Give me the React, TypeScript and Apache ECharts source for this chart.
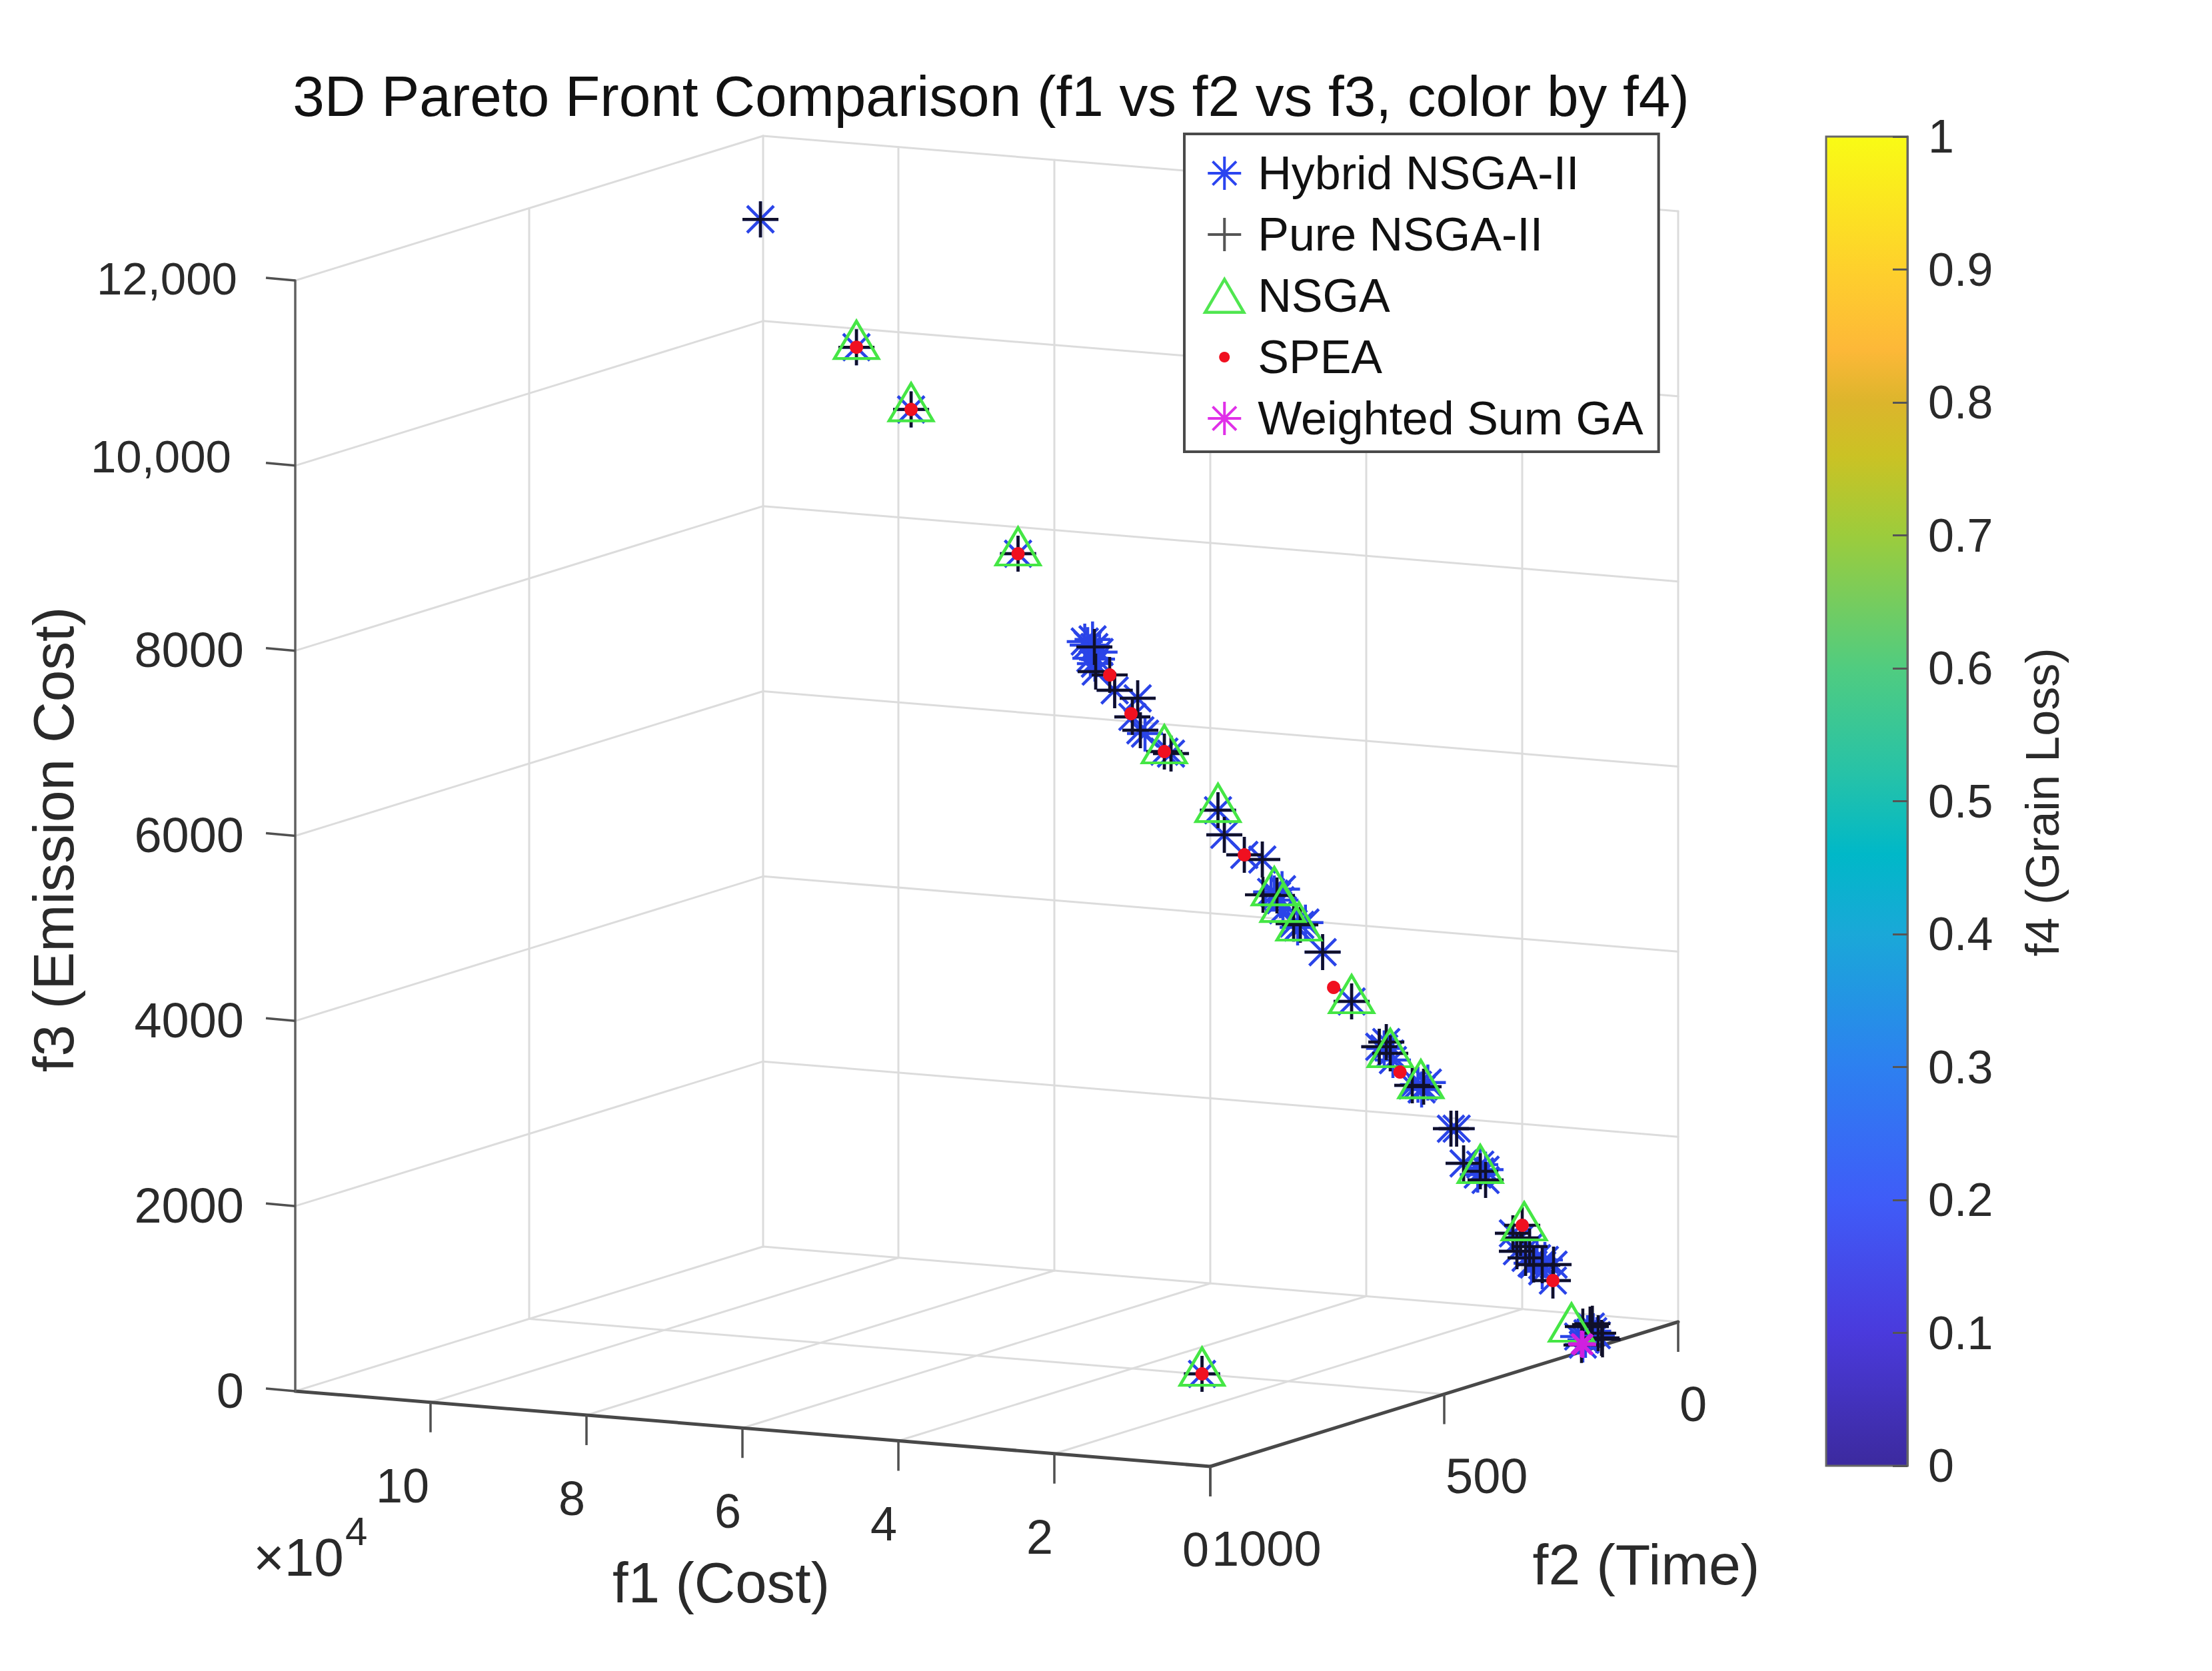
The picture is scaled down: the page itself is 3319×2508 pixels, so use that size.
import React, { useEffect, useRef } from "react";
import * as echarts from "echarts";

const W = 3319;
const H = 2508;
const FONT = "'Liberation Sans', Arial, sans-serif";

const chartTitle = "3D Pareto Front Comparison (f1 vs f2 vs f3, color by f4)";
const seriesNames = ["Hybrid NSGA-II", "Pure NSGA-II", "NSGA", "SPEA", "Weighted Sum GA"];

const f1Ticks = [0, 20000, 40000, 60000, 80000, 100000];
const f1TickLabels = ["0", "2", "4", "6", "8", "10"];
const f2Ticks = [0, 500, 1000];
const f2TickLabels = ["0", "500", "1000"];
const f3Ticks = [0, 2000, 4000, 6000, 8000, 10000, 12000];
const f3TickLabels = ["0", "2000", "4000", "6000", "8000", "10,000", "12,000"];
const F1_MAX = 117350;
const F2_MAX = 1000;
const F3_MAX = 12000;

// [f1, f2, f3]
const hybrid = [
  [109890,130,11354],[97580,130,10057],[90570,130,9433],[76855,130,7970],
  [68300,130,7080],[67300,130,7110],[66400,130,6980],[67000,130,6850],
  [67923,130,7045],[67068,130,7030],[67581,130,6904],[66726,130,6902],[66897,130,6765],[64462,130,6580],
  [61513,130,6514],[62197,130,6308],[61171,130,6171],[60573,130,6139],[58094,130,5962],[57239,130,5946],
  [51214,130,5376],[50402,130,5116],[47838,130,4917],[45530,130,4883],
  [44400,130,4540],[43200,130,4460],[43000,130,4580],[40000,130,4240],[41000,130,4180],
  [43649,130,4507],[43991,130,4526],[41513,130,4219],[40658,130,4211],[42880,130,4354],[37795,130,3936],
  [34077,130,3429],[30530,130,2964],[29632,130,3021],[29120,130,2902],[28778,130,2832],[29900,130,2950],
  [26299,130,2576],[25573,130,2588],[24846,130,2572],[25100,130,2540],[24300,130,2620],
  [21342,130,2142],[20607,130,2148],[19718,130,1779],[17581,130,1708],[16897,130,1619],[17581,130,1780],[16900,130,1730],[17900,130,1670],
  [13393,130,1067],[12410,130,1024],[11256,130,939],[12880,130,877],[11769,130,813],[10744,130,748],[9632,130,748],[9291,130,808],[8179,130,765],[9632,130,683],[8265,130,592],[10300,130,820],[11000,130,760],
  [692,170,160],[1684,170,60],[1000,170,208],[231,170,120],[2026,170,6],[2624,170,89],[1427,170,133],
  [7060,900,795],
];
const pure = [
  [109890,130,11354],[97580,130,10057],[90570,130,9433],[76855,130,7970],
  [67068,130,7030],[66897,130,6765],[65102,130,6741],[64462,130,6580],[61513,130,6514],[62197,130,6308],[61171,130,6171],[58094,130,5962],[57239,130,5946],
  [51214,130,5376],[50402,130,5116],[47838,130,4917],[45530,130,4883],[45444,130,4502],[43649,130,4507],[41513,130,4219],[40658,130,4211],[37795,130,3936],
  [34077,130,3429],[30530,130,2964],[29632,130,3021],[29120,130,2902],[26299,130,2576],[24846,130,2572],
  [21342,130,2142],[20607,130,2148],[19718,130,1779],[17581,130,1708],[16897,130,1619],
  [13393,130,1067],[12197,130,1162],[12410,130,1024],[11256,130,939],[12880,130,877],[11769,130,813],[10744,130,748],[9632,130,748],[8179,130,765],[8265,130,592],
  [2026,170,201],[60,170,143],[2197,170,0],[1000,170,208],[1100,170,230],[800,170,240],[230,160,76],[100,160,60],
  [7060,900,795],
];
const nsga = [
  [97580,130,10057],[90570,130,9433],[76855,130,7970],[58094,130,5962],[51214,130,5376],
  [43991,130,4526],[42880,130,4354],[40829,130,4167],[34077,130,3429],[29120,130,2881],[25200,130,2572],
  [17581,130,1708],[11940,130,1128],[3479,170,155],[7060,900,795],
];
const spea = [
  [97580,130,10057],[90570,130,9433],[76855,130,7970],[65102,130,6741],[62367,130,6342],[58094,130,5962],
  [47838,130,4917],[36385,130,3564],[27872,130,2709],[12197,130,1162],[8265,130,592],[7060,900,795],
];
const weighted = [[2026,170,6],[2200,170,12]];

const colorbarTicks = [0, 1];
const colorbarStops = [
  [0, "#3c2a9e"], [0.1, "#4a3adc"], [0.2, "#3f5cf8"], [0.3, "#2d80f0"], [0.4, "#1aa8d8"], [0.46, "#00b8c8"],
  [0.52, "#26c2a8"], [0.6, "#50cc80"], [0.7, "#9ccc3c"], [0.76, "#cbc224"], [0.8, "#dcb52c"], [0.84, "#fdb838"], [0.9, "#fed02c"], [1, "#f9fb15"],
];

function project(p: number[]): number[] {
  const u = p[0];
  const t = 1 - p[1] / F2_MAX;
  return [
    1816 - (u / F1_MAX) * 1373 + 702 * t,
    2201 - (u / F1_MAX) * 113 - 217 * t - (p[2] / F3_MAX) * 1667,
  ];
}

const ASTERISK = "path://M0 27L54 27M27 0L27 54M7 7L47 47M7 47L47 7";
const PLUS = "path://M0 27L54 27M27 0L27 54";
const TRIANGLE = "path://M0 56L33 0L66 56Z";
const LEG_AST = "path://M2 25L50 25M26 1L26 49M9 8L43 42M9 42L43 8";
const LEG_PLUS = "path://M2 25L50 25M26 1L26 49";
const LEG_TRI = "path://M1 49L29 1L57 49Z";
const LEG_DOT = "path://M0 0M58 50M29 17A8 8 0 1 1 28.9 17Z";

function segment(a: number[], b: number[], color: string, width: number) {
  return {
    type: "line",
    xAxisIndex: 0,
    yAxisIndex: 0,
    data: [project(a), project(b)],
    symbol: "none",
    silent: true,
    lineStyle: { color, width, cap: "round" },
    z: 1,
  };
}

function buildFrame() {
  const out: any[] = [];
  const GRID = "#dcdcdc";
  const gw = 3;
  f3Ticks.forEach((z) => {
    out.push(segment([F1_MAX, F2_MAX, z], [F1_MAX, 0, z], GRID, gw));
    out.push(segment([F1_MAX, 0, z], [0, 0, z], GRID, gw));
  });
  f1Ticks.forEach((x) => {
    out.push(segment([x, F2_MAX, 0], [x, 0, 0], GRID, gw));
    out.push(segment([x, 0, 0], [x, 0, F3_MAX], GRID, gw));
  });
  out.push(segment([F1_MAX, 0, 0], [F1_MAX, 0, F3_MAX], GRID, gw));
  out.push(segment([F1_MAX, 500, 0], [0, 500, 0], GRID, gw));
  out.push(segment([F1_MAX, 500, 0], [F1_MAX, 500, F3_MAX], GRID, gw));
  const AX = "#484848";
  out.push(segment([F1_MAX, F2_MAX, 0], [0, F2_MAX, 0], AX, 5));
  out.push(segment([0, F2_MAX, 0], [0, 0, 0], AX, 5));
  out.push(segment([F1_MAX, F2_MAX, 0], [F1_MAX, F2_MAX, F3_MAX], "#606060", 3.5));
  return out;
}

function tickMarks() {
  const d: any[] = [];
  const tick = (p: number[], dx: number, dy: number) => {
    const s = project(p);
    d.push([[s[0], s[1]], [s[0] + dx, s[1] + dy]]);
  };
  f1Ticks.forEach((x) => tick([x, F2_MAX, 0], 0, 45));
  f2Ticks.forEach((y) => tick([0, y, 0], 0, 45));
  f3Ticks.forEach((z) => tick([F1_MAX, F2_MAX, z], -44, -4));
  return d.map((pair) => ({
    type: "line",
    data: pair,
    symbol: "none",
    silent: true,
    lineStyle: { color: "#505050", width: 3.5 },
    z: 1,
  }));
}

function text(t: string, x: number, y: number, size: number, align = "center", color = "#2a2a2a", rotation = 0) {
  return {
    type: "text",
    x,
    y,
    rotation,
    silent: true,
    style: { text: t, fontSize: size, fontFamily: FONT, fill: color, align, verticalAlign: "middle" },
  };
}

function labels() {
  const out: any[] = [];
  f1Ticks.forEach((x, i) => {
    const s = project([x, F2_MAX, 0]);
    out.push(text(f1TickLabels[i], s[0] - 2, s[1] + 125, 72, "right"));
  });
  f2Ticks.forEach((y, i) => {
    const s = project([0, y, 0]);
    out.push(text(f2TickLabels[i], s[0] + 2, s[1] + 123, 74, "left"));
  });
  f3Ticks.forEach((z, i) => {
    const s = project([F1_MAX, F2_MAX, z]);
    const comma = f3TickLabels[i].indexOf(",") > 0;
    if (comma) {
      out.push(text(f3TickLabels[i], z === 12000 ? 356 : 347, s[1] - (z === 12000 ? 3 : 13), 69, "right"));
    } else {
      out.push(text(f3TickLabels[i], 366, s[1] - 1, 74, "right"));
    }
  });
  out.push(text("×10", 380, 2337, 80, "left"));
  out.push(text("4", 518, 2298, 60, "left"));
  out.push(text("f1 (Cost)", 1082, 2375, 85));
  out.push(text("f2 (Time)", 2470, 2348, 86));
  out.push(text("f3 (Emission Cost)", 80, 1260, 85.5, "center", "#2a2a2a", Math.PI / 2));
  out.push(text("f4 (Grain Loss)", 3065, 1204, 70, "center", "#2a2a2a", Math.PI / 2));
  return out;
}

function scatter(name: string, data: number[][], symbol: string, size: any, style: any, z: number, extra: any = {}) {
  return {
    type: "scatter",
    name,
    xAxisIndex: 0,
    yAxisIndex: 0,
    data: data.map(project),
    symbol,
    symbolSize: size,
    itemStyle: { opacity: 1, ...style },
    silent: true,
    z,
    ...extra,
  };
}

export default function App() {
  const ref = useRef<HTMLDivElement>(null);
  useEffect(() => {
    document.body.style.margin = "0";
    const chart = echarts.init(ref.current!, undefined, { renderer: "svg", width: W, height: H });
    const gradient = {
      type: "linear",
      x: 0,
      y: 1,
      x2: 0,
      y2: 0,
      colorStops: colorbarStops.map((s) => ({ offset: s[0], color: s[1] })),
    };
    chart.setOption({
      animation: false,
      backgroundColor: "#ffffff",
      title: {
        text: chartTitle,
        left: 1482,
        top: 96,
        textAlign: "center",
        textStyle: { fontFamily: FONT, fontSize: 85.5, fontWeight: "normal", color: "#111111" },
      },
      legend: {
        orient: "vertical",
        left: 1777,
        top: 201,
        padding: [24, 23, 15, 29],
        itemWidth: 58,
        itemHeight: 50,
        itemGap: 22,
        align: "left",
        selectedMode: false,
        backgroundColor: "#ffffff",
        borderColor: "#4a4a4a",
        borderWidth: 4,
        textStyle: { fontFamily: FONT, fontSize: 70, color: "#111111", padding: [0, 0, 0, 16] },
        data: [
          { name: seriesNames[0], icon: LEG_AST, itemStyle: { color: "transparent", borderColor: "#2a44f0", borderWidth: 4 } },
          { name: seriesNames[1], icon: LEG_PLUS, itemStyle: { color: "transparent", borderColor: "#555555", borderWidth: 4 } },
          { name: seriesNames[2], icon: LEG_TRI, itemStyle: { color: "transparent", borderColor: "#50e650", borderWidth: 4.5 } },
          { name: seriesNames[3], icon: LEG_DOT, itemStyle: { color: "#f01020", borderColor: "transparent", borderWidth: 0 } },
          { name: seriesNames[4], icon: LEG_AST, itemStyle: { color: "transparent", borderColor: "#e030e8", borderWidth: 4 } },
        ],
      },
      grid: [
        { left: 0, top: 0, width: W, height: H, show: false },
        { left: 2740, top: 205, width: 122, height: 1995, show: true, borderColor: "#666666", borderWidth: 3, backgroundColor: "transparent", z: 3 },
      ],
      xAxis: [
        { type: "value", gridIndex: 0, min: 0, max: W, show: false },
        { type: "category", gridIndex: 1, data: ["f4"], show: false },
      ],
      yAxis: [
        { type: "value", gridIndex: 0, min: 0, max: H, inverse: true, show: false },
        {
          type: "value",
          gridIndex: 1,
          min: colorbarTicks[0],
          max: colorbarTicks[1],
          interval: 0.1,
          position: "right",
          axisLine: { show: true, lineStyle: { color: "#666666", width: 3 } },
          axisTick: { show: true, inside: true, length: 22, lineStyle: { color: "#555555", width: 3 } },
          axisLabel: { show: true, margin: 31, fontFamily: FONT, fontSize: 70, color: "#2a2a2a" },
          splitLine: { show: false },
          z: 5,
        },
      ],
      series: [
        ...buildFrame(),
        ...tickMarks(),
        {
          type: "bar",
          xAxisIndex: 1,
          yAxisIndex: 1,
          data: [1],
          barWidth: "100%",
          silent: true,
          itemStyle: { color: gradient },
          z: 2,
        },
        scatter(seriesNames[0], hybrid, ASTERISK, [54, 54], { color: "transparent", borderColor: "#2a44e8", borderWidth: 4.5 }, 3),
        scatter(seriesNames[1], pure, PLUS, [54, 54], { color: "transparent", borderColor: "#10102a", borderWidth: 4.5 }, 4),
        scatter(seriesNames[2], nsga, TRIANGLE, [66, 56], { color: "transparent", borderColor: "#45e645", borderWidth: 4.5 }, 5, { symbolOffset: [0, -11] }),
        scatter(seriesNames[3], spea, "circle", 20, { color: "#f01020" }, 6),
        scatter(seriesNames[4], weighted, ASTERISK, [40, 40], { color: "transparent", borderColor: "#d020e0", borderWidth: 5 }, 7),
      ],
      graphic: labels(),
    });
    return () => chart.dispose();
  }, []);
  return <div ref={ref} style={{ position: "absolute", left: 0, top: 0, width: W, height: H }} />;
}
